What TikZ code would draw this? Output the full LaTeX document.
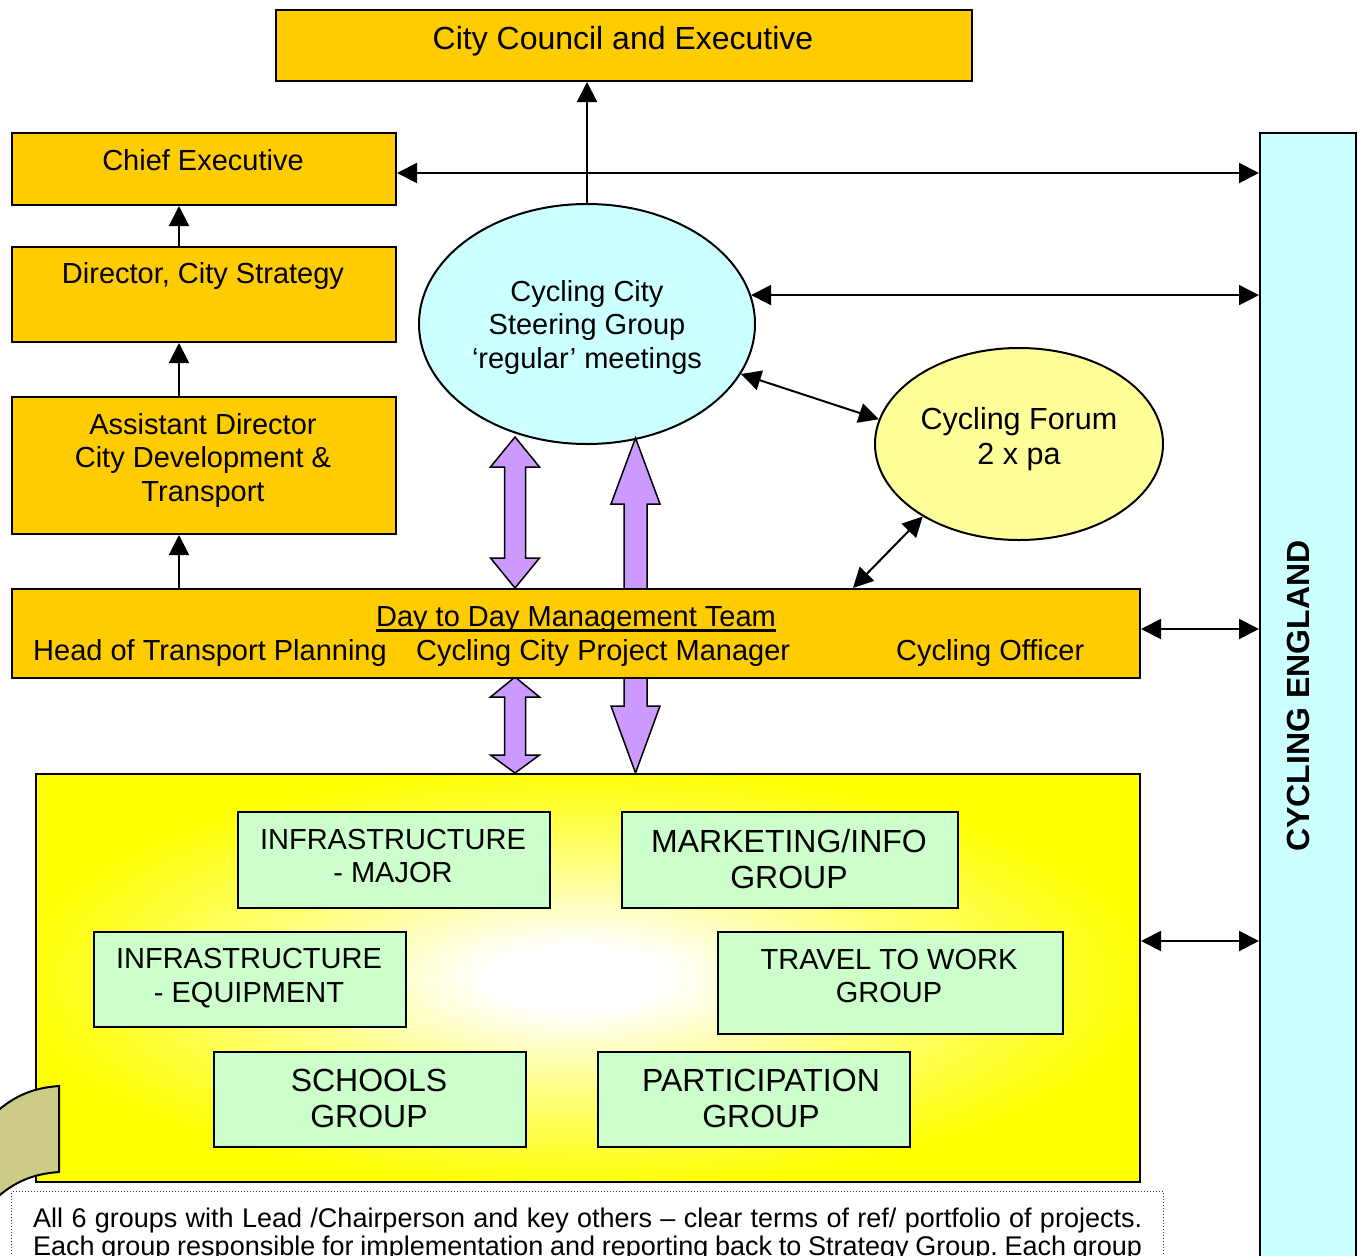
\documentclass[tikz,border=0pt]{standalone}
\usepackage{fontspec}
\setmainfont{Liberation Sans}
\usetikzlibrary{arrows.meta,shapes.geometric,calc}
\definecolor{orangeC}{HTML}{FFCC00}
\definecolor{cyanC}{HTML}{CCFFFF}
\definecolor{forumC}{HTML}{FFFF99}
\definecolor{greenC}{HTML}{CCFFCC}
\definecolor{purpleC}{HTML}{CC99FF}
\definecolor{oliveC}{HTML}{CCCC88}
\pgfdeclareradialshading{yglow}{\pgfpoint{-0.6bp}{0bp}}{color(0bp)=(white); color(4bp)=(white); color(14bp)=(white!50!yellow); color(26bp)=(yellow); color(50bp)=(yellow)}
\tikzset{
  bx/.style={draw, line width=2pt, rectangle, inner sep=0pt, anchor=north west},
  obox/.style={bx, fill=orangeC},
  gbox/.style={bx, fill=greenC},
  t29/.style={inner sep=0pt, align=center, font=\fontsize{29}{33.5}\selectfont},
  t30/.style={inner sep=0pt, align=center, font=\fontsize{30.5}{35}\selectfont},
  t32/.style={inner sep=0pt, align=center, font=\fontsize{32}{36}\selectfont},
  conn/.style={line width=2pt, -{Triangle[length=20pt,width=20pt]}},
  dconn/.style={line width=2pt, {Triangle[length=20pt,width=20pt]}-{Triangle[length=20pt,width=20pt]}},
  parr/.style={draw, line width=1.5pt, fill=purpleC, line join=miter},
}
\begin{document}
\begin{tikzpicture}[x=1pt,y=-1pt]
\useasboundingbox (0,0) rectangle (1361,1256);

% helper coordinates
\coordinate (xv) at (179,0);
\coordinate (y173) at (0,173);
\coordinate (y629) at (0,629);
\coordinate (y941) at (0,941);
\coordinate (dayF) at (853,588);

% Cycling England column
\node[bx, fill=cyanC, minimum width=96, minimum height=1150] (eng) at (1259,132) {};
\node[rotate=90, inner sep=0pt, font=\bfseries\fontsize{32}{36}\selectfont] (engT) at (1298,696) {CYCLING ENGLAND};

% City Council
\node[obox, minimum width=696, minimum height=71] (council) at (275,9) {};
\node[t32] (councilT) at (623,41) {City Council and Executive};

% left column
\node[obox, minimum width=384, minimum height=72] (cexec) at (11,132) {};
\node[t29] (cexecT) at (203,160) {Chief Executive};
\node[obox, minimum width=384, minimum height=95] (dir) at (11,246) {};
\node[t29, anchor=base] (dirT) at (203,283) {Director, City Strategy};
\node[obox, minimum width=384, minimum height=137] (asst) at (11,396) {};
\node[t29] (asstT) at (203,460) {Assistant Director\\City Development \&\\Transport};

% ellipses
\node[ellipse, draw, line width=2pt, fill=cyanC, minimum width=336, minimum height=240, inner sep=0pt] (steer) at (587,324) {};
\node[t29] (steerT) at (587,327) {Cycling City\\Steering Group\\‘regular’ meetings};
\node[ellipse, draw, line width=2pt, fill=forumC, minimum width=288, minimum height=192, inner sep=0pt] (forum) at (1019,444) {};
\node[t30] (forumT) at (1019,439) {Cycling Forum\\2 x pa};

% big purple arrow (behind the management box)
\path[parr] (635.5,438) -- (660,504) -- (647,504) -- (647,706) -- (660,706) -- (635.5,773)
  -- (611,706) -- (624,706) -- (624,504) -- (611,504) -- cycle;
% purple double arrows
\path[parr] (515,437) -- (539.5,467) -- (525.5,467) -- (525.5,558) -- (539.5,558) -- (515,588)
  -- (490.5,558) -- (504.5,558) -- (504.5,467) -- (490.5,467) -- cycle;
\path[parr] (515,677) -- (539.5,697) -- (525.5,697) -- (525.5,755) -- (539.5,755) -- (515,773)
  -- (490.5,755) -- (504.5,755) -- (504.5,697) -- (490.5,697) -- cycle;

% Day to day management team
\node[obox, minimum width=1128, minimum height=89] (day) at (11,588) {};
\node[t29, anchor=base] (dayT) at (576,626) {Day to Day Management Team};
\draw[line width=2.5pt] ([yshift=-4.5pt]dayT.base west) -- ([yshift=-4.5pt]dayT.base east);
\node[t29, anchor=base west] (dayA) at (33,660) {Head of Transport Planning};
\node[t29, anchor=base west] (dayB) at (416,660) {Cycling City Project Manager};
\node[t29, anchor=base west] (dayC) at (896,660) {Cycling Officer};

% working groups area
\node[bx, shading=yglow, minimum width=1104, minimum height=408] (work) at (35,773) {};
\node[gbox, minimum width=312, minimum height=96] (g1) at (237,811) {};
\node[t29] (g1T) at (393,856) {INFRASTRUCTURE\\- MAJOR};
\node[gbox, minimum width=336, minimum height=96] (g2) at (621,811) {};
\node[t32] (g2T) at (789,859) {MARKETING/INFO\\GROUP};
\node[gbox, minimum width=312, minimum height=95] (g3) at (93,931) {};
\node[t29] (g3T) at (249,978) {INFRASTRUCTURE\\- EQUIPMENT};
\node[gbox, minimum width=345, minimum height=102] (g4) at (717,931) {};
\node[t29] (g4T) at (889,976) {TRAVEL TO WORK\\GROUP};
\node[gbox, minimum width=312, minimum height=95] (g5) at (213,1051) {};
\node[t32] (g5T) at (369,1098) {SCHOOLS\\GROUP};
\node[gbox, minimum width=312, minimum height=95] (g6) at (597,1051) {};
\node[t32] (g6T) at (761,1098) {PARTICIPATION\\GROUP};

% note box
\node[draw=black!75, dotted, line width=1pt, rectangle, anchor=north west, minimum width=1152, minimum height=110, inner sep=0pt] (note) at (11,1191) {};
\node[anchor=north west, inner sep=0pt, text width=1109pt, align=justify, font=\fontsize{27}{28}\selectfont] (noteT) at (33,1208)
  {\frenchspacing\hyphenpenalty=10000 \parfillskip=0pt All 6 groups with Lead /Chairperson and key others – clear terms of ref/ portfolio of projects.\linebreak Each group responsible for implementation and reporting back to Strategy Group. Each group};

% olive partial shape
\path[draw, line width=2pt, fill=oliveC] (-10,1118) .. controls (10,1098) and (30,1088) .. (59,1086)
  -- (59,1172) .. controls (30,1174) and (10,1184) .. (-10,1204) -- cycle;

% connectors
\draw[conn] (steer.north) -- (steer.north |- council.south);
\draw[dconn] (cexec.east |- y173) -- (eng.west |- y173);
\draw[dconn] (steer.10.4) -- (steer.10.4 -| eng.west);
\draw[conn] (dir.north -| xv) -- (cexec.south -| xv);
\draw[conn] (asst.north -| xv) -- (dir.south -| xv);
\draw[conn] (day.north -| xv) -- (asst.south -| xv);
\draw[dconn] (steer.-18) -- (forum.170);
\draw[dconn] (forum.-143) -- (dayF);
\draw[dconn] (day.east |- y629) -- (eng.west |- y629);
\draw[dconn] (work.east |- y941) -- (eng.west |- y941);
\end{tikzpicture}
\end{document}
